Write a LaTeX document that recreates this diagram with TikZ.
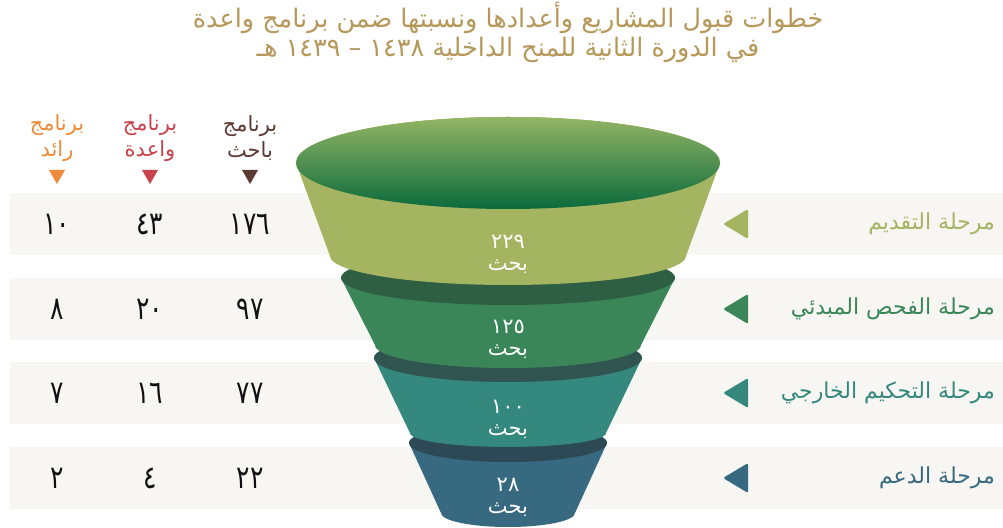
\documentclass[tikz,border=0pt]{standalone}
\usepackage{fontspec}
\newfontfamily\arabicfont[Script=Arabic]{DejaVu Sans}
\newfontfamily\numfont[Script=Arabic,FakeStretch=0.78]{DejaVu Sans}
\TeXXeTstate=1
\definecolor{bandc}{HTML}{F7F6F2}
\definecolor{titlec}{HTML}{B7985B}
\definecolor{raidc}{HTML}{EE8B3A}
\definecolor{waidac}{HTML}{C9434C}
\definecolor{bahithc}{HTML}{5B3A33}
\definecolor{olivec}{HTML}{A4B461}
\definecolor{greenc}{HTML}{3B8658}
\definecolor{tealc}{HTML}{35887D}
\definecolor{bluec}{HTML}{376980}
\definecolor{ringgreen}{HTML}{2E5F42}
\definecolor{ringteal}{HTML}{30544F}
\definecolor{ringblue}{HTML}{2D4955}
\definecolor{topA}{HTML}{93B565}
\definecolor{topB}{HTML}{0B6A3C}
\definecolor{numc}{HTML}{111111}
\newcommand{\funnelsec}[9]{%
  \fill[#8] ({#1-#3},#2) -- ({#1-#6},#5)
     arc[start angle=180,end angle=360,x radius=#6,y radius=#7]
     -- ({#1+#3},#2)
     arc[start angle=0,end angle=180,x radius=#3,y radius=#4] -- cycle;
  \fill[#9] (#1,#2) ellipse[x radius=#3,y radius=#4];
}
\tikzset{
  titletext/.style={font=\arabicfont\fontsize{25.5}{28}\selectfont,text=titlec,inner sep=0pt},
  headtext/.style={font=\arabicfont\fontsize{21}{26}\selectfont,align=center,inner sep=0pt},
  numtext/.style={font=\numfont\fontsize{32}{34}\selectfont,text=numc,inner sep=0pt},
  stagetext/.style={font=\arabicfont\fontsize{22}{24}\selectfont,anchor=east,inner sep=0pt},
  funneltext/.style={font=\arabicfont\fontsize{21}{24}\selectfont,text=white,inner sep=0pt},
  downtri/.style={fill=#1},
  lefttri/.style={fill=#1,rounded corners=1.5pt}
}
\begin{document}
\begin{tikzpicture}[x=1pt,y=1pt]
\useasboundingbox (0,0) rectangle (1003,527);
\fill[white] (0,0) rectangle (1003,527);
% bands
\foreach \yy in {272,187,103,18} {\fill[bandc] (10,\yy) rectangle (1003,\yy+62);}
% title
\node[titletext] (t1) at (508,509) {\beginR خطوات قبول المشاريع وأعدادها ونسبتها ضمن برنامج واعدة\endR};
\node[titletext] (t2) at (508,477) {\beginR في الدورة الثانية للمنح الداخلية ١٤٣٨ – ١٤٣٩ هـ\endR};
% column headers
\node[headtext,text=raidc] (h1) at (57,389) {\beginR برنامج\endR\\\beginR رائد\endR};
\node[headtext,text=waidac] (h2) at (150,389) {\beginR برنامج\endR\\\beginR واعدة\endR};
\node[headtext,text=bahithc] (h3) at (250,389) {\beginR برنامج\endR\\\beginR باحث\endR};
\fill[downtri=raidc] (49,357) -- (65,357) -- (57,343) -- cycle;
\fill[downtri=waidac] (142,357) -- (158,357) -- (150,343) -- cycle;
\fill[downtri=bahithc] (242,357) -- (258,357) -- (250,343) -- cycle;
% numbers
\node[numtext] (n11) at (57,303) {١٠};
\node[numtext] (n12) at (150,303) {٤٣};
\node[numtext] (n13) at (250,303) {١٧٦};
\node[numtext] (n21) at (57,218) {٨};
\node[numtext] (n22) at (150,218) {٢٠};
\node[numtext] (n23) at (250,218) {٩٧};
\node[numtext] (n31) at (57,134) {٧};
\node[numtext] (n32) at (150,134) {١٦};
\node[numtext] (n33) at (250,134) {٧٧};
\node[numtext] (n41) at (57,49) {٢};
\node[numtext] (n42) at (150,49) {٤};
\node[numtext] (n43) at (250,49) {٢٢};
% funnel (bottom to top)
\funnelsec{508}{84}{99}{19}{14}{67}{14}{bluec}{ringblue}
\funnelsec{508}{169}{134}{24}{94}{98}{14}{tealc}{ringteal}
\funnelsec{508}{249}{167}{27}{182}{133}{23}{greenc}{ringgreen}
\funnelsec{508}{364}{212}{46}{271}{178}{29}{olivec}{olivec}
\shade[top color=topA,bottom color=topB] (508,364) ellipse[x radius=212,y radius=46];
% funnel labels
\node[funneltext] (f1a) at (508,285) {٢٢٩};
\node[funneltext] (f1b) at (508,260) {\beginR بحث\endR};
\node[funneltext] (f2a) at (508,200) {١٢٥};
\node[funneltext] (f2b) at (508,175) {\beginR بحث\endR};
\node[funneltext] (f3a) at (508,120) {١٠٠};
\node[funneltext] (f3b) at (508,95) {\beginR بحث\endR};
\node[funneltext] (f4a) at (508,42) {٢٨};
\node[funneltext] (f4b) at (508,17) {\beginR بحث\endR};
% stage labels
\node[stagetext,text=olivec] (s1) at (995,303) {\beginR مرحلة التقديم\endR};
\node[stagetext,text=greenc] (s2) at (995,218) {\beginR مرحلة الفحص المبدئي\endR};
\node[stagetext,text=tealc] (s3) at (995,134) {\beginR مرحلة التحكيم الخارجي\endR};
\node[stagetext,text=bluec] (s4) at (995,49) {\beginR مرحلة الدعم\endR};
\fill[lefttri=olivec] (748,318) -- (748,288) -- (723,303) -- cycle;
\fill[lefttri=greenc] (748,233) -- (748,203) -- (723,218) -- cycle;
\fill[lefttri=tealc] (748,149) -- (748,119) -- (723,134) -- cycle;
\fill[lefttri=bluec] (748,64) -- (748,34) -- (723,49) -- cycle;
\end{tikzpicture}
\end{document}
